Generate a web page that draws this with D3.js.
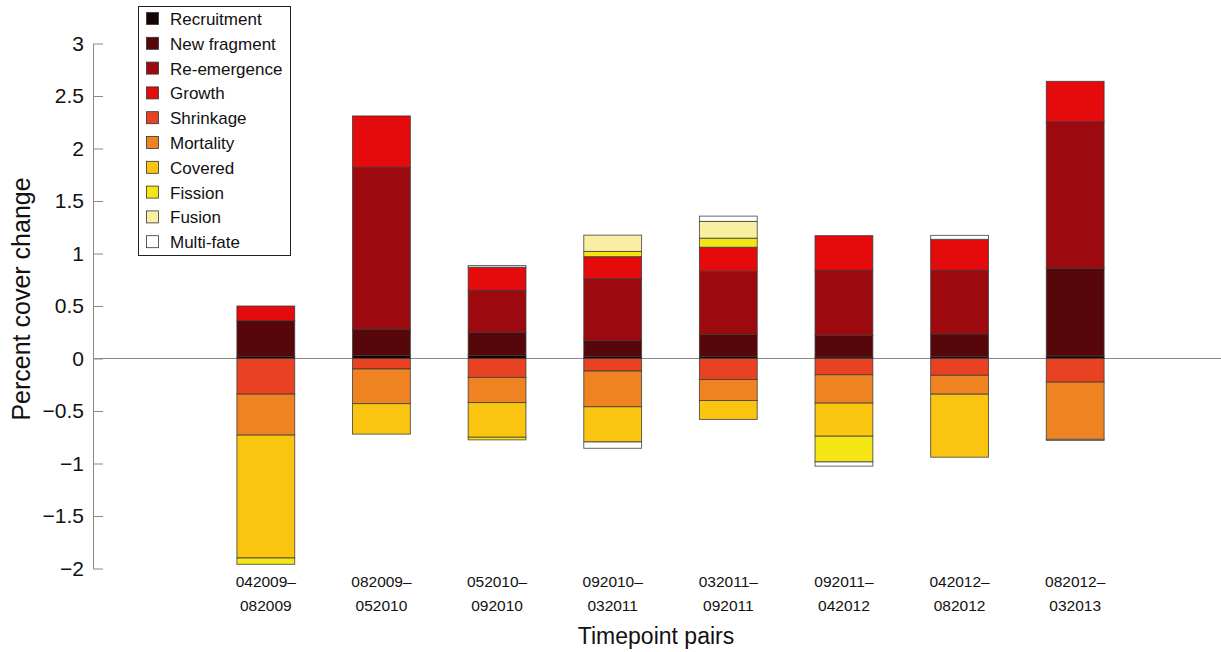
<!DOCTYPE html>
<html>
<head>
<meta charset="utf-8">
<script src="https://cdn.jsdelivr.net/npm/d3@7"></script>
<style>
  body { margin: 0; background: #fff; }
  svg { display: block; font-family: "Liberation Sans", Arial, Helvetica, sans-serif; }
</style>
</head>
<body>
<div id="chart"></div>
<script>
// Data
const pairs = ["042009–082009", "082009–052010", "052010–092010", "092010–032011",
  "032011–092011", "092011–042012", "042012–082012", "082012–032013"];
const fates = ["Recruitment", "New fragment", "Re-emergence", "Growth", "Shrinkage",
  "Mortality", "Covered", "Fission", "Fusion", "Multi-fate"];
const recruitment = [0.02, 0.03, 0.03, 0.02, 0.02, 0.015, 0.017, 0.024];
const newFragment = [0.34, 0.25, 0.22, 0.15, 0.21, 0.205, 0.216, 0.835];
const reEmergence = [0, 1.54, 0.40, 0.59, 0.60, 0.62, 0.607, 1.396];
const growth = [0.14, 0.49, 0.22, 0.21, 0.23, 0.33, 0.295, 0.385];
const shrinkage = [-0.34, -0.10, -0.18, -0.12, -0.20, -0.155, -0.16, -0.225];
const mortality = [-0.39, -0.33, -0.24, -0.34, -0.20, -0.27, -0.18, -0.545];
const covered = [-1.17, -0.29, -0.33, -0.335, -0.18, -0.315, -0.60, 0];
const fission = [-0.06, 0, -0.025, 0.05, 0.086, -0.245, 0, 0];
const fusion = [0, 0, 0, 0.155, 0.16, 0, 0, 0];
const multiFate = [0, 0, 0.015, -0.06, 0.05, -0.04, 0.038, -0.01];
const yTicks = [-2, -1.5, -1, -0.5, 0, 0.5, 1, 1.5, 2, 2.5, 3];

const seriesValues = [recruitment, newFragment, reEmergence, growth, shrinkage,
  mortality, covered, fission, fusion, multiFate];
const colors = ["#140404", "#570609", "#9c0a10", "#e50a0b", "#e84222",
  "#ef8322", "#f9c510", "#f3e614", "#f9eea2", "#ffffff"];

// Build table for the stack
const table = pairs.map((p, i) => {
  const row = { pair: p };
  fates.forEach((f, k) => { row[f] = seriesValues[k][i]; });
  return row;
});

const width = 1221;
const height = 652;

const svg = d3.select("#chart").append("svg")
  .attr("width", width)
  .attr("height", height);

const x = d3.scaleBand()
  .domain(pairs)
  .range([208, 1133])
  .paddingInner(0.5)
  .paddingOuter(0.25);

const y = d3.scaleLinear()
  .domain([-2, 3])
  .range([568.5, 43.5]);

const stacked = d3.stack()
  .keys(fates)
  .offset(d3.stackOffsetDiverging)(table);

// zero line
svg.append("line")
  .attr("x1", 93).attr("x2", width)
  .attr("y1", y(0)).attr("y2", y(0))
  .attr("stroke", "#8a8a8a")
  .attr("stroke-width", 1.2);

// bars
svg.append("g")
  .selectAll("g")
  .data(stacked)
  .join("g")
  .attr("fill", (d, i) => colors[i])
  .selectAll("rect")
  .data(d => d.filter(s => s[1] !== s[0]))
  .join("rect")
  .attr("x", d => x(d.data.pair))
  .attr("width", x.bandwidth())
  .attr("y", d => y(d[1]))
  .attr("height", d => y(d[0]) - y(d[1]))
  .attr("stroke", "#3a3a3a")
  .attr("stroke-opacity", 0.85)
  .attr("stroke-width", 0.9);

// y axis
const yAxis = d3.axisLeft(y)
  .tickValues(yTicks)
  .tickSizeInner(-10)
  .tickSizeOuter(0)
  .tickPadding(9)
  .tickFormat(d => (d < 0 ? "\u2212" : "") + Math.abs(d));

const gy = svg.append("g")
  .attr("transform", "translate(93,0)")
  .call(yAxis);
gy.select(".domain").attr("stroke", "#8a8a8a");
gy.selectAll(".tick line").attr("stroke", "#8a8a8a");
gy.selectAll(".tick text")
  .attr("font-size", 21)
  .attr("fill", "#111")
  .attr("font-family", "'Liberation Sans', Arial, sans-serif");

// x tick labels (two lines)
const xl = svg.append("g");
pairs.forEach(p => {
  const parts = p.split("–");
  const cx = x(p) + x.bandwidth() / 2;
  const t = xl.append("text")
    .attr("text-anchor", "middle")
    .attr("font-size", 15.5)
    .attr("fill", "#111");
  t.append("tspan").attr("x", cx).attr("y", 587).text(parts[0] + "–");
  t.append("tspan").attr("x", cx).attr("y", 611).text(parts[1]);
});

// axis titles
svg.append("text")
  .attr("x", 656)
  .attr("y", 644)
  .attr("text-anchor", "middle")
  .attr("font-size", 23)
  .attr("fill", "#111")
  .text("Timepoint pairs");

svg.append("text")
  .attr("transform", "translate(30,299) rotate(-90)")
  .attr("text-anchor", "middle")
  .attr("font-size", 25)
  .attr("fill", "#111")
  .text("Percent cover change");

// legend
const legend = svg.append("g");
legend.append("rect")
  .attr("x", 138.5).attr("y", 6.5)
  .attr("width", 152).attr("height", 249)
  .attr("fill", "#fff")
  .attr("stroke", "#222")
  .attr("stroke-width", 1);

const items = legend.selectAll("g.item")
  .data(fates)
  .join("g")
  .attr("class", "item")
  .attr("transform", (d, i) => `translate(146,${19 + i * 24.8})`);

items.append("rect")
  .attr("x", 0.5).attr("y", -6.5)
  .attr("width", 12).attr("height", 12)
  .attr("fill", (d, i) => colors[i])
  .attr("stroke", "#333")
  .attr("stroke-width", 0.8);

items.append("text")
  .attr("x", 24)
  .attr("y", 6)
  .attr("font-size", 17)
  .attr("fill", "#111")
  .text(d => d);
</script>
</body>
</html>
